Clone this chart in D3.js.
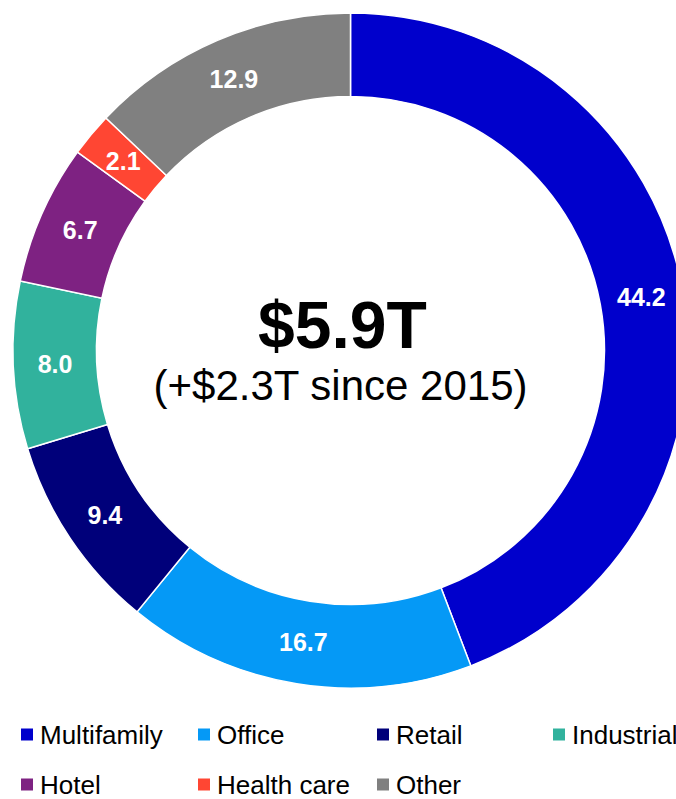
<!DOCTYPE html>
<html>
<head>
<meta charset="utf-8">
<script src="https://cdn.jsdelivr.net/npm/d3@7"></script>
<style>
  html, body { margin: 0; padding: 0; background: #fff; overflow: hidden; }
  svg { display: block; font-family: "Liberation Sans", Arial, sans-serif; }
</style>
</head>
<body>
<svg id="chart" width="676" height="799"></svg>
<script>
const categories = ["Multifamily", "Office", "Retail", "Industrial", "Hotel", "Health care", "Other"];
const values = [44.2, 16.7, 9.4, 8.0, 6.7, 2.1, 12.9];
const colors = ["#0000CC", "#0599F6", "#00007A", "#31B29D", "#7E2282", "#FF4633", "#808080"];
const centerTitle = "$5.9T";
const centerSubtitle = "(+$2.3T since 2015)";

const svg = d3.select("#chart");
const cx = 350.5, cy = 350.5, outerR = 337.5, innerR = 254;

const data = categories.map((c, i) => ({ category: c, value: values[i], color: colors[i] }));
const pie = d3.pie().value(d => d.value).sort(null);
const arc = d3.arc().innerRadius(innerR).outerRadius(outerR);

const g = svg.append("g").attr("transform", `translate(${cx},${cy})`);
const arcs = pie(data);

g.selectAll("path.slice").data(arcs).join("path")
  .attr("class", "slice")
  .attr("d", arc)
  .attr("fill", d => d.data.color)
  .attr("stroke", "#fff")
  .attr("stroke-width", 1.5);

g.selectAll("text.val").data(arcs).join("text")
  .attr("class", "val")
  .attr("transform", d => `translate(${arc.centroid(d)})`)
  .attr("text-anchor", "middle")
  .attr("dy", "0.36em")
  .attr("fill", "#fff")
  .attr("font-weight", "bold")
  .attr("font-size", 25)
  .text(d => d3.format(".1f")(d.data.value));

g.append("text")
  .attr("text-anchor", "middle")
  .attr("x", -8)
  .attr("y", -2.5)
  .attr("font-weight", "bold")
  .attr("font-size", 66)
  .attr("fill", "#000")
  .text(centerTitle);

g.append("text")
  .attr("text-anchor", "middle")
  .attr("x", -10)
  .attr("y", 49.5)
  .attr("font-size", 42)
  .attr("fill", "#000")
  .text(centerSubtitle);

// Legend
const legendX = [21, 198, 377, 553];
const legendY = [734.5, 784.5];
const legend = svg.append("g");
data.forEach((d, i) => {
  const col = i < 4 ? i : i - 4;
  const row = i < 4 ? 0 : 1;
  const lg = legend.append("g").attr("transform", `translate(${legendX[col]},${legendY[row]})`);
  lg.append("rect").attr("x", 0).attr("y", -6).attr("width", 12).attr("height", 12).attr("fill", d.color);
  lg.append("text").attr("x", 19).attr("dy", "0.35em").attr("font-size", 26).attr("fill", "#000").text(d.category);
});
</script>
</body>
</html>
